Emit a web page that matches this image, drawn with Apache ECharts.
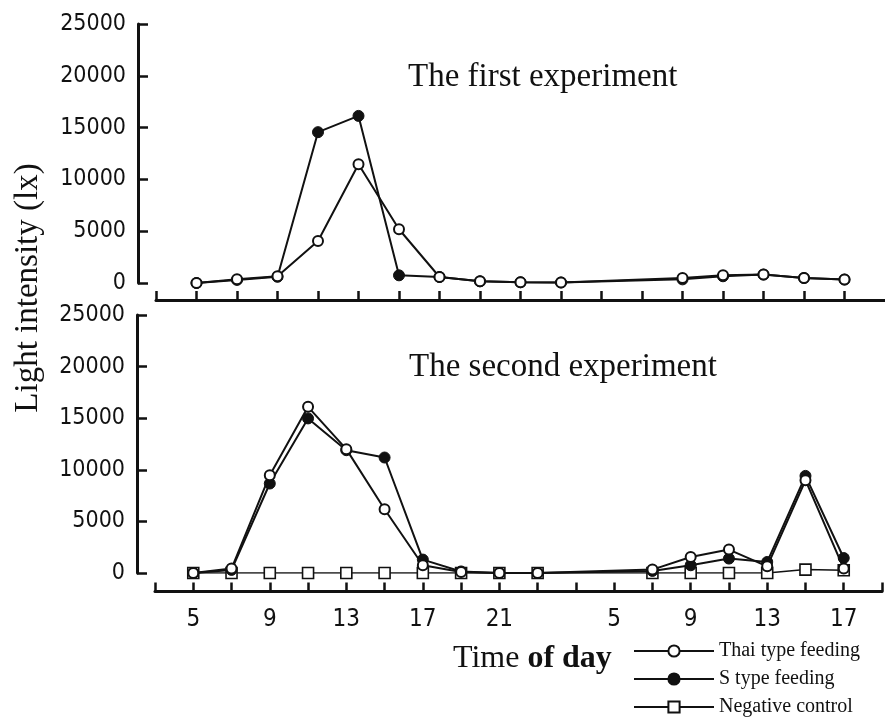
<!DOCTYPE html>
<html>
<head>
<meta charset="utf-8">
<script src="https://cdn.jsdelivr.net/npm/echarts@6/dist/echarts.min.js"></script>
<style>
  html, body { margin: 0; padding: 0; background: #ffffff; }
  #chart { width: 885px; height: 724px; }
</style>
</head>
<body>
<div id="chart"></div>
<script>
// Sampling slots along the time axis (one slot = 2 h; the night is compressed)
const slotsFirst = 17;
const slotsSecond = 18;
const labelSlots = [0, 2, 4, 6, 8, 11, 13, 15, 17];
const labelHours = ['5', '9', '13', '17', '21', '5', '9', '13', '17'];

// Light intensity (lx) per slot; null = not measured
const thaiFirst = [0, 360, 650, 4060, 11470, 5190, 580, 160, 70, 50, null, null, 480, 740, 810, 480, 330];
const sFirst    = [0, 300, 600, 14560, 16130, 740, 580, 160, 70, 50, null, null, 350, 650, 810, 480, 330];

const thaiSecond    = [0, 430, 9480, 16100, 12000, 6180, 750, 100, 0, 0, null, null, 330, 1550, 2270, 650, 8990, 430];
const sSecond       = [0, 300, 8670, 14980, 11900, 11190, 1300, 150, 0, 0, null, null, 200, 750, 1400, 1070, 9410, 1450];
const controlSecond = [0, 0, 0, 0, 0, 0, 0, 0, 0, 0, null, null, 0, 0, 0, 0, 330, 260];

const yTicks = [0, 5000, 10000, 15000, 20000, 25000];

const INK = '#111111';
const SANS = "'Liberation Sans Narrow', 'DejaVu Sans Condensed', 'Liberation Sans', sans-serif";
const SERIF = "'Liberation Serif', 'DejaVu Serif', serif";

function toPairs(arr) {
  const out = [];
  arr.forEach((v, i) => { if (v !== null) out.push([i, v]); });
  return out;
}
function range(a, b) { const r = []; for (let i = a; i <= b; i++) r.push(i); return r; }

function xAxis(gridIndex, maxSlot, tickSlots, withLabels) {
  return {
    type: 'value', gridIndex: gridIndex, min: -1, max: maxSlot, interval: 1,
    position: 'bottom',
    offset: gridIndex === 0 ? 17 : 18.5,
    splitLine: { show: false },
    axisLine: { show: true, onZero: false, lineStyle: { color: INK, width: 3 } },
    axisTick: { show: true, inside: true, length: 9, customValues: tickSlots,
                lineStyle: { color: INK, width: 2.5 } },
    axisLabel: withLabels ? {
      show: true, customValues: labelSlots, margin: 16,
      color: INK, fontFamily: SANS, fontSize: 24,
      formatter: function (v) { const k = labelSlots.indexOf(Math.round(v)); return k >= 0 ? labelHours[k] : ''; }
    } : { show: false }
  };
}
function yAxis(gridIndex) {
  return {
    type: 'value', gridIndex: gridIndex, min: 0, max: 25000, interval: 5000,
    position: 'left',
    offset: 18,
    splitLine: { show: false },
    axisLine: { show: true, onZero: false, lineStyle: { color: INK, width: 3 } },
    axisTick: { show: true, inside: true, length: 10, lineStyle: { color: INK, width: 2.5 } },
    axisLabel: { show: true, margin: 12, color: INK, fontFamily: SANS, fontSize: 23,
                 customValues: yTicks, formatter: function (v) { return String(v); } }
  };
}

const openCircle = { symbol: 'circle', symbolSize: 10,
  itemStyle: { color: '#ffffff', borderColor: INK, borderWidth: 2 } };
const filledCircle = { symbol: 'circle', symbolSize: 11,
  itemStyle: { color: INK, borderColor: INK, borderWidth: 1 } };
const openSquare = { symbol: 'rect', symbolSize: 11,
  itemStyle: { color: '#ffffff', borderColor: INK, borderWidth: 1.6 } };

function lineSeries(name, data, xi, yi, marker, width, z) {
  return Object.assign({
    type: 'line', name: name, xAxisIndex: xi, yAxisIndex: yi,
    data: toPairs(data), showAllSymbol: true, animation: false, z: z,
    lineStyle: { color: INK, width: width }
  }, JSON.parse(JSON.stringify(marker)));
}

const chart = echarts.init(document.getElementById('chart'), null, { renderer: 'canvas' });
chart.setOption({
  backgroundColor: '#ffffff',
  animation: false,
  grid: [
    { left: 156, width: 729, top: 24, height: 259 },
    { left: 155, width: 727, top: 315, height: 258 }
  ],
  xAxis: [
    xAxis(0, slotsFirst, range(-1, slotsFirst - 1), false),
    xAxis(1, slotsSecond, range(-1, slotsSecond), true)
  ],
  yAxis: [yAxis(0), yAxis(1)],
  legend: {
    orient: 'vertical', left: 633, top: 640, padding: 0,
    itemWidth: 80, itemHeight: 14, itemGap: 6,
    data: ['Thai type feeding', 'S type feeding', 'Negative control'],
    textStyle: { color: INK, fontFamily: SERIF, fontSize: 20, lineHeight: 22 }
  },
  series: [
    lineSeries('S type feeding', sFirst, 0, 0, filledCircle, 2, 3),
    lineSeries('Thai type feeding', thaiFirst, 0, 0, openCircle, 2, 4),
    lineSeries('Negative control', controlSecond, 1, 1, openSquare, 1.5, 2),
    lineSeries('S type feeding', sSecond, 1, 1, filledCircle, 2, 3),
    lineSeries('Thai type feeding', thaiSecond, 1, 1, openCircle, 2, 4)
  ],
  graphic: [
    { type: 'text', left: 408, top: 61,
      style: { text: 'The first experiment', fill: INK, font: '33px ' + SERIF } },
    { type: 'text', left: 409, top: 351,
      style: { text: 'The second experiment', fill: INK, font: '33px ' + SERIF } },
    { type: 'text', x: 28, y: 288, rotation: Math.PI / 2,
      style: { text: 'Light intensity (lx)', fill: INK, font: '33px ' + SERIF,
               align: 'center', verticalAlign: 'middle' } },
    { type: 'text', left: 453, top: 643,
      style: { text: '{a|Time }{b|of day}', fill: INK,
               rich: { a: { fontFamily: SERIF, fontSize: 32, fill: INK },
                       b: { fontFamily: SERIF, fontSize: 32, fontWeight: 'bold', fill: INK } } } }
  ]
});
</script>
</body>
</html>
